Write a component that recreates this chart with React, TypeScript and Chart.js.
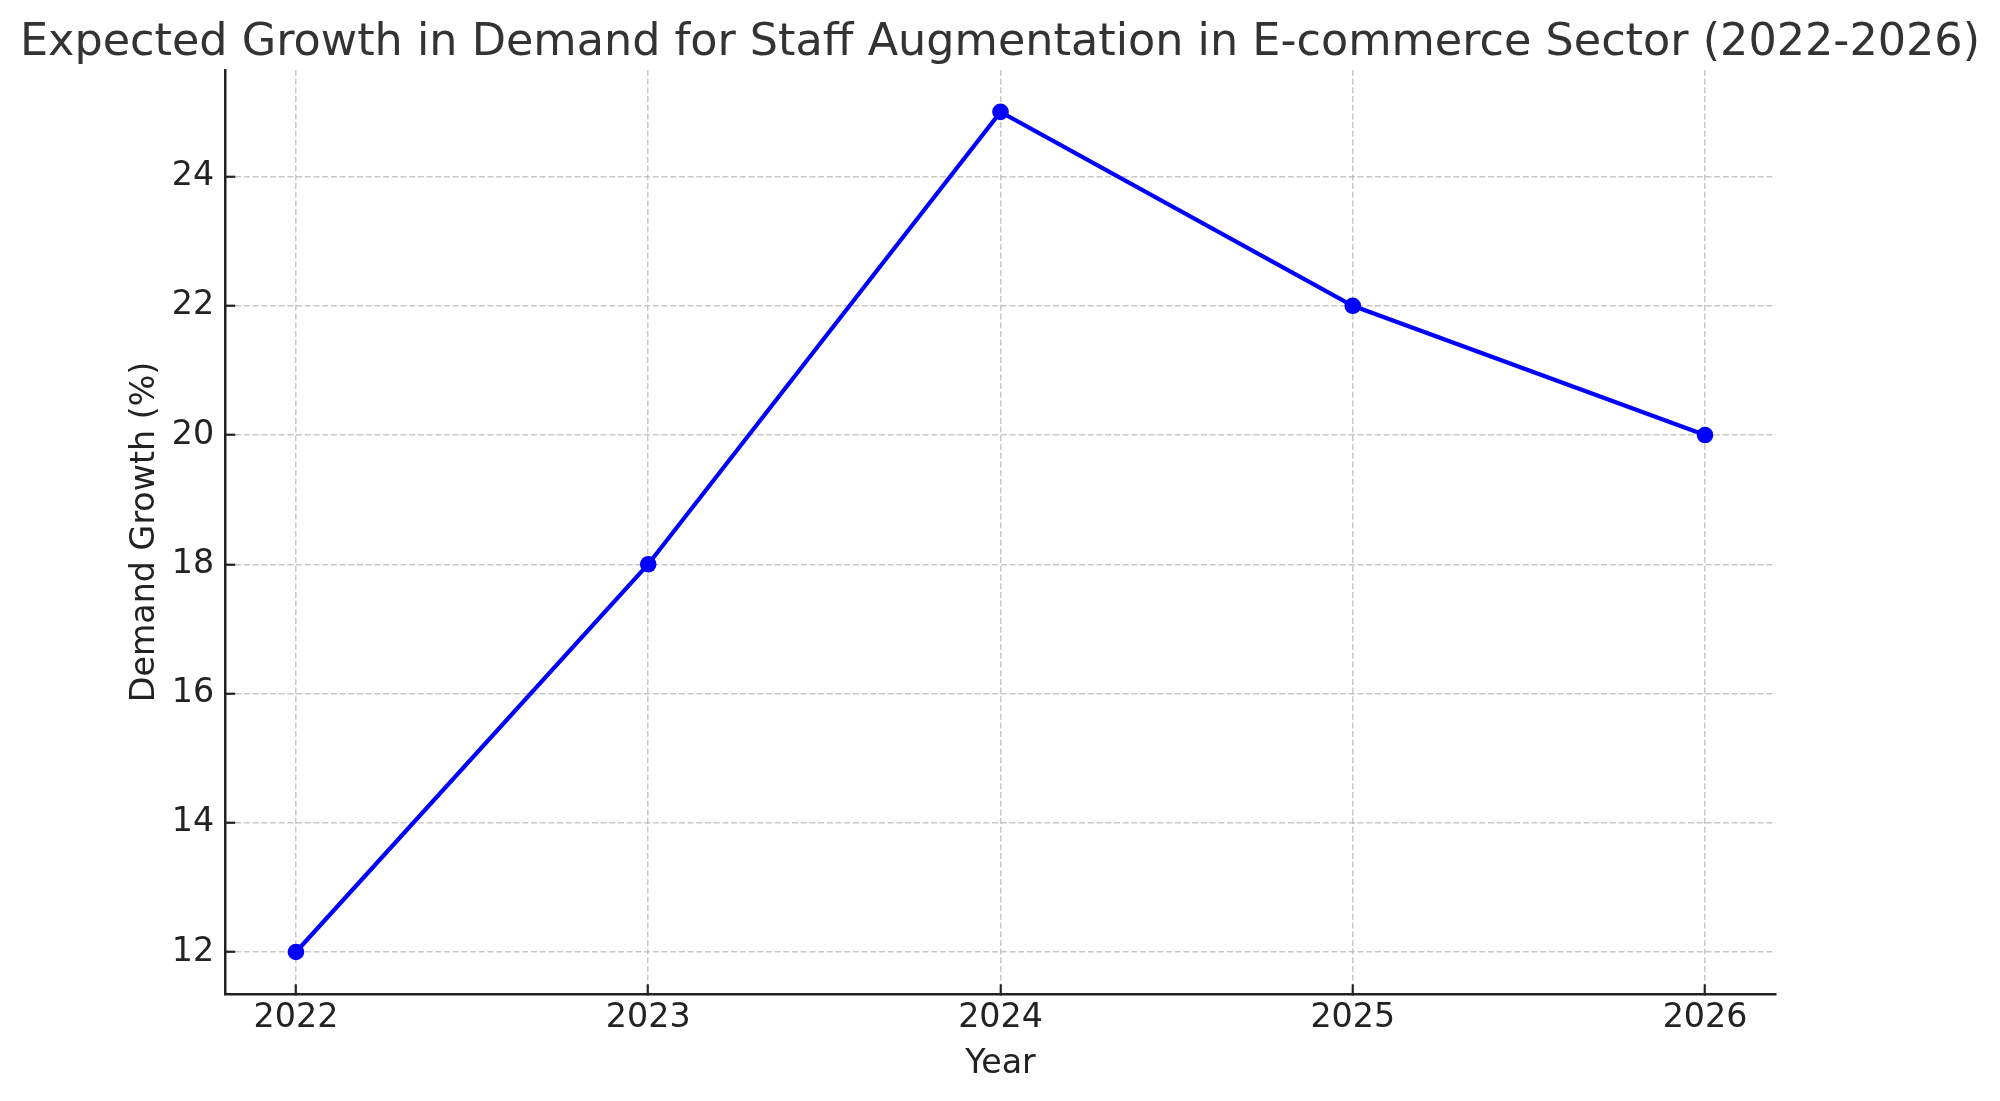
import { useEffect, useRef } from "react"
import { Chart, registerables } from "chart.js"

Chart.register(...registerables)

// data
const years = [2022, 2023, 2024, 2025, 2026]
const demandGrowth = [12, 18, 25, 22, 20]
const yTickValues = [12, 14, 16, 18, 20, 22, 24]

const TITLE = "Expected Growth in Demand for Staff Augmentation in E-commerce Sector (2022-2026)"
const FONT = "'DejaVu Sans', sans-serif"

export default function App() {
  const canvasRef = useRef<HTMLCanvasElement>(null)

  useEffect(() => {
    if (!canvasRef.current) return
    const ctx = canvasRef.current.getContext("2d")
    if (!ctx) return

    // matplotlib-style 5% margins around the data
    const xPad = (years[years.length - 1] - years[0]) * 0.05
    const yMinData = Math.min(...demandGrowth)
    const yMaxData = Math.max(...demandGrowth)
    const yPad = (yMaxData - yMinData) * 0.05

    const gridStyle = {
      color: "rgba(176,176,176,0.7)",
      lineWidth: 1.5,
      tickColor: "#222222",
      tickWidth: 2.2,
      tickLength: -9.7,
    }

    const chart = new Chart(ctx, {
      type: "line",
      data: {
        datasets: [
          {
            data: years.map((y, i) => ({ x: y, y: demandGrowth[i] })),
            borderColor: "#0000ff",
            backgroundColor: "#0000ff",
            borderWidth: 4.2,
            pointRadius: 8.3,
            pointBorderWidth: 0,
            pointBackgroundColor: "#0000ff",
            tension: 0,
          },
        ],
      },
      options: {
        animation: false,
        responsive: false,
        devicePixelRatio: 1,
        layout: { padding: 0 },
        plugins: {
          legend: { display: false },
          tooltip: { enabled: false },
          title: {
            display: true,
            text: TITLE,
            color: "#333333",
            font: { family: FONT, size: 44.5, weight: "normal" },
            padding: { top: 16.5, bottom: 0 },
          },
        },
        scales: {
          x: {
            type: "linear",
            position: "bottom",
            min: years[0] - xPad,
            max: years[years.length - 1] + xPad,
            afterBuildTicks: (scale) => {
              scale.ticks = years.map((v) => ({ value: v }))
            },
            afterFit: (scale) => {
              scale.height = 107
            },
            ticks: {
              color: "#222222",
              font: { family: FONT, size: 33.3 },
              padding: 14,
              maxRotation: 0,
              autoSkip: false,
              callback: (v) => String(v),
            },
            grid: gridStyle,
            border: { display: true, color: "#222222", width: 2.5, dash: [6, 2.7] },
            title: {
              display: true,
              text: "Year",
              color: "#222222",
              font: { family: FONT, size: 33.3 },
              padding: { top: 0, bottom: 17 },
            },
          },
          y: {
            type: "linear",
            position: "left",
            min: yMinData - yPad,
            max: yMaxData + yPad,
            afterBuildTicks: (scale) => {
              scale.ticks = yTickValues.map((v) => ({ value: v }))
            },
            afterFit: (scale) => {
              scale.width = 225.5
            },
            ticks: {
              color: "#222222",
              font: { family: FONT, size: 33.3 },
              padding: 21,
              autoSkip: false,
              callback: (v) => String(v),
            },
            grid: gridStyle,
            border: { display: true, color: "#222222", width: 2.5, dash: [6, 2.7] },
            title: {
              display: true,
              text: "Demand Growth (%)",
              color: "#222222",
              font: { family: FONT, size: 33.3 },
              padding: { top: 125, bottom: 0 },
            },
          },
          // empty axis that keeps the right margin, so the title stays centred on the canvas
          yRight: {
            type: "linear",
            position: "right",
            display: true,
            ticks: { display: false },
            grid: { display: false, drawOnChartArea: false },
            border: { display: false },
            afterFit: (scale) => {
              scale.width = 224.5
            },
          },
        },
      },
    })

    return () => {
      chart.destroy()
    }
  }, [])

  return (
    <div style={{ width: 2000, height: 1101, background: "#ffffff" }}>
      <style>{`body { margin: 0; }`}</style>
      <canvas ref={canvasRef} width={2000} height={1101} style={{ display: "block" }}></canvas>
    </div>
  )
}
